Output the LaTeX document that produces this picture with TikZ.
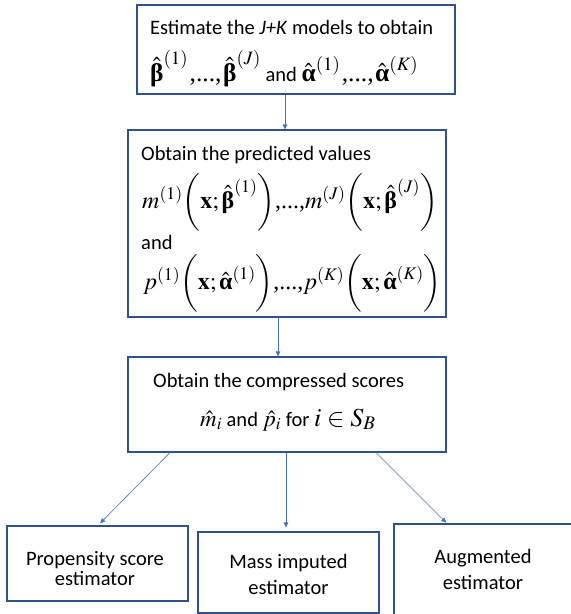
\documentclass[tikz,border=0pt]{standalone}
\usepackage{amsmath}
\usepackage{mathptmx}
\usepackage[no-math]{fontspec}
\setmainfont{Carlito}
\newfontfamily\tnr{Liberation Serif}
\usetikzlibrary{arrows.meta}
\definecolor{boxblue}{HTML}{2F528F}
\definecolor{arrblue}{HTML}{4472C4}
\newcommand{\mthA}[1]{{\fontsize{25.5}{29}\selectfont$#1$}}
\newcommand{\mthB}[1]{{\fontsize{24}{28}\selectfont$#1$}}
\newcommand{\mthD}[1]{{\fontsize{23}{27}\selectfont$#1$}}
\newcommand{\mthC}[1]{{\fontsize{26}{30}\selectfont$#1$}}
\newcommand{\Bh}{\hat{\hbox{\tnr\bfseries β}}}
\newcommand{\Ah}{\hat{\hbox{\tnr\bfseries α}}}
\newcommand{\dts}{\hbox{\tnr\kern1.5pt,...,\kern1.5pt}}
\begin{document}
\begin{tikzpicture}[x=1pt,y=-1pt,
  box/.style={draw=boxblue,line width=1.1pt,inner sep=0pt,fill=none},
  txt/.style={anchor=base west,inner sep=0pt,font=\fontsize{20.5}{24}\selectfont},
  ctxt/.style={anchor=base,inner sep=0pt,font=\fontsize{20.5}{24}\selectfont},
  arr/.style={draw=arrblue,line width=0.6pt,-{Triangle[length=5pt,width=4.5pt]}}]
\clip (0,0) rectangle (571,614);
\fill[white] (0,0) rectangle (571,614);
% boxes
\node[box,minimum width=318pt,minimum height=89pt] (b1) at (296,49.5) {};
\node[box,minimum width=318pt,minimum height=187pt] (b2) at (287,223.5) {};
\node[box,minimum width=318pt,minimum height=95pt] (b3) at (287,404.5) {};
\node[box,minimum width=181pt,minimum height=75pt] (ba) at (97.5,563.5) {};
\node[box,minimum width=181pt,minimum height=81pt] (bb) at (288.5,572.5) {};
\node[box,minimum width=182pt,minimum height=100pt] (bc) at (485,574) {};
% texts box 1
\node[txt] (t1a) at (150,34) {Estimate the \textit{J+K} models to obtain};
\node[txt] (t1b) at (150,81) {\mthA{\Bh^{(1)}\dts\Bh^{(J)}} and \mthA{\Ah^{(1)}\dts\Ah^{(K)}}};
% texts box 2
\node[txt] (t2a) at (141,160) {Obtain the predicted values};
\node[txt] (t2b) at (142,208) {\mthB{m^{(1)}\biggl(\mathbf{x};\Bh^{(1)}\biggr)\hbox{\tnr,...,}m^{(J)}\biggl(\mathbf{x};\Bh^{(J)}\biggr)}};
\node[txt] (t2c) at (141,249) {and};
\node[txt] (t2d) at (143,289) {\mthB{p^{(1)}\biggl(\mathbf{x};\Ah^{(1)}\biggr)\hbox{\tnr,...,}p^{(K)}\biggl(\mathbf{x};\Ah^{(K)}\biggr)}};
% texts box 3
\node[txt] (t3a) at (153,387) {Obtain the compressed scores};
\node[txt] (t3b) at (200,426) {\mthD{\hat m_i} and \mthD{\hat p_i} for \mthC{i\in S_B}};
% bottom texts
\node[ctxt] (taa) at (95,565) {Propensity score};
\node[ctxt] (tab) at (95,585) {estimator};
\node[ctxt] (tba) at (288.5,568) {Mass imputed};
\node[ctxt] (tbb) at (288.5,594) {estimator};
\node[ctxt] (tca) at (483,563) {Augmented};
\node[ctxt] (tcb) at (483,589) {estimator};
% arrows
\draw[arr] ([xshift=-11pt]b1.south) -- ([xshift=-2pt]b2.north);
\draw[arr] ([xshift=-9pt]b2.south) -- ([xshift=-9pt]b3.north);
\draw[arr,shorten >=3pt] ([xshift=-117pt]b3.south) -- ([xshift=0.5pt]ba.north);
\draw[arr,shorten >=4pt] ([xshift=-1pt]b3.south) -- ([xshift=-2.5pt]bb.north);
\draw[arr,shorten >=1pt] ([xshift=89pt]b3.south) -- ([xshift=-38pt]bc.north);
\end{tikzpicture}
\end{document}
